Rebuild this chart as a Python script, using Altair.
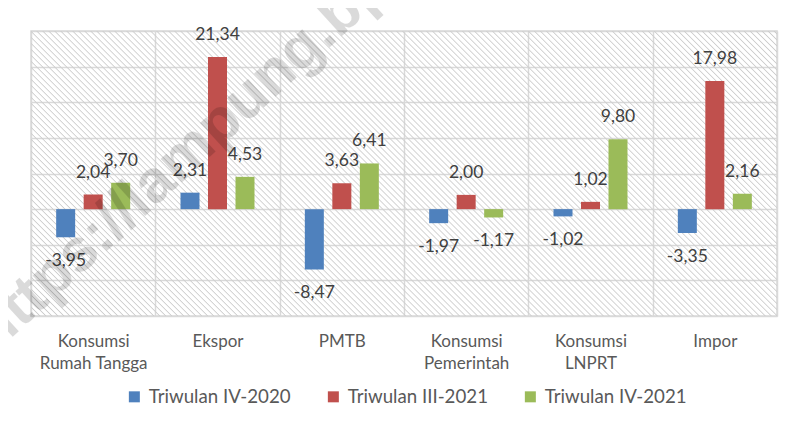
import altair as alt
import pandas as pd

# ---- data ----
categories = ["Konsumsi Rumah Tangga", "Ekspor", "PMTB",
              "Konsumsi Pemerintah", "Konsumsi LNPRT", "Impor"]
series = ["Triwulan IV-2020", "Triwulan III-2021", "Triwulan IV-2021"]
tw4_2020 = [-3.95, 2.31, -8.47, -1.97, -1.02, -3.35]
tw3_2021 = [2.04, 21.34, 3.63, 2.00, 1.02, 17.98]
tw4_2021 = [3.70, 4.53, 6.41, -1.17, 9.80, 2.16]
y_ticks = [-15, -10, -5, 0, 5, 10, 15, 20, 25]
watermark = "https://lampung.bps.go.id"

colors = ["#4f81bd", "#c0504d", "#9bbb59"]

rows = []
for s, vals in zip(series, [tw4_2020, tw3_2021, tw4_2021]):
    for c, v in zip(categories, vals):
        rows.append({"cat": c, "series": s, "value": v})
df = pd.DataFrame(rows)

W, H = 746, 285

# diagonal hatch as a striped linear gradient (style only)
N = 172
stops = []
for k in range(N):
    stops += [
        {"offset": k / N, "color": "rgba(205,205,205,0)"},
        {"offset": (k + 0.3) / N, "color": "rgba(205,205,205,0)"},
        {"offset": (k + 0.5) / N, "color": "rgba(205,205,205,1)"},
        {"offset": (k + 0.7) / N, "color": "rgba(205,205,205,0)"},
    ]
stops.append({"offset": 1, "color": "rgba(205,205,205,0)"})
r = H / W
s_len = (1 + r) / (1 + r * r)
hatch = alt.LinearGradient(gradient="linear", stops=stops,
                           x1=0, y1=1, x2=s_len, y2=1 - s_len * r)

bg = alt.Chart(pd.DataFrame({"k": [0]})).mark_rect(
    fill=hatch, strokeWidth=0
).encode(x=alt.value(0), x2=alt.value("width"), y=alt.value(0), y2=alt.value("height"))

x_enc = alt.X("cat:N", sort=categories,
              scale=alt.Scale(paddingInner=0, paddingOuter=0),
              axis=alt.Axis(title=None, tickBand="extent", grid=True,
                            gridColor="#d9d9d9", gridWidth=1.5,
                            ticks=False, domain=False, labelAngle=0,
                            labelFont="Lato", labelFontSize=17,
                            labelColor="#595959", labelPadding=17,
                            labelLineHeight=22, labelBaseline="top",
                            labelExpr="indexof(datum.label, ' ') > 0 ? [substring(datum.label, 0, indexof(datum.label, ' ')), substring(datum.label, indexof(datum.label, ' ') + 1)] : datum.label"))
xo_enc = alt.XOffset("series:N", sort=series,
                     scale=alt.Scale(paddingInner=0.309, paddingOuter=0.915))
y_enc = alt.Y("value:Q", scale=alt.Scale(domain=[-15, 25], nice=False, zero=False),
              axis=alt.Axis(title=None, values=y_ticks, labels=False, ticks=False,
                            domain=False, grid=True, gridColor="#d9d9d9", gridWidth=1.5))

bars = alt.Chart(df).mark_bar().encode(
    x=x_enc, xOffset=xo_enc, y=y_enc,
    color=alt.Color("series:N", sort=series,
                    scale=alt.Scale(domain=series, range=colors),
                    legend=alt.Legend(title=None, orient="none", direction="horizontal",
                                      legendX=94, legendY=356,
                                      symbolType="square", symbolSize=121,
                                      symbolStrokeWidth=0,
                                      labelFont="Lato", labelFontSize=18.7,
                                      labelColor="#595959", labelOffset=5,
                                      columnPadding=33)),
)

base_txt = alt.Chart(df).transform_calculate(
    lbl="(datum.value < 0 ? '-' : '') + replace(format(abs(datum.value), '.2f'), '.', ',')"
)
pos_txt = base_txt.transform_filter("datum.value >= 0").mark_text(
    dy=-22, baseline="middle", font="Lato", fontSize=17.5, color="#404040"
).encode(x=x_enc, xOffset=xo_enc, y=y_enc, text="lbl:N")
neg_txt = base_txt.transform_filter("datum.value < 0").mark_text(
    dy=24, baseline="middle", font="Lato", fontSize=17.5, color="#404040"
).encode(x=x_enc, xOffset=xo_enc, y=y_enc, text="lbl:N")

wm = alt.Chart(pd.DataFrame({"k": [0]})).mark_text(
    text=watermark, angle=317.6, font="Liberation Sans", fontWeight="bold",
    fontSize=60, color="#000000", opacity=0.14, align="center", baseline="middle"
).encode(x=alt.value(222), y=alt.value(62))

chart = alt.layer(bg, bars, pos_txt, neg_txt, wm).properties(
    width=W, height=H,
    autosize=alt.AutoSizeParams(type="none"),
    padding={"left": 23, "top": 23, "right": 11, "bottom": 103},
    background="white",
).configure_view(stroke="#d9d9d9", strokeWidth=1.5)

chart.save("out.html", embed_options={"renderer": "svg", "actions": False})
